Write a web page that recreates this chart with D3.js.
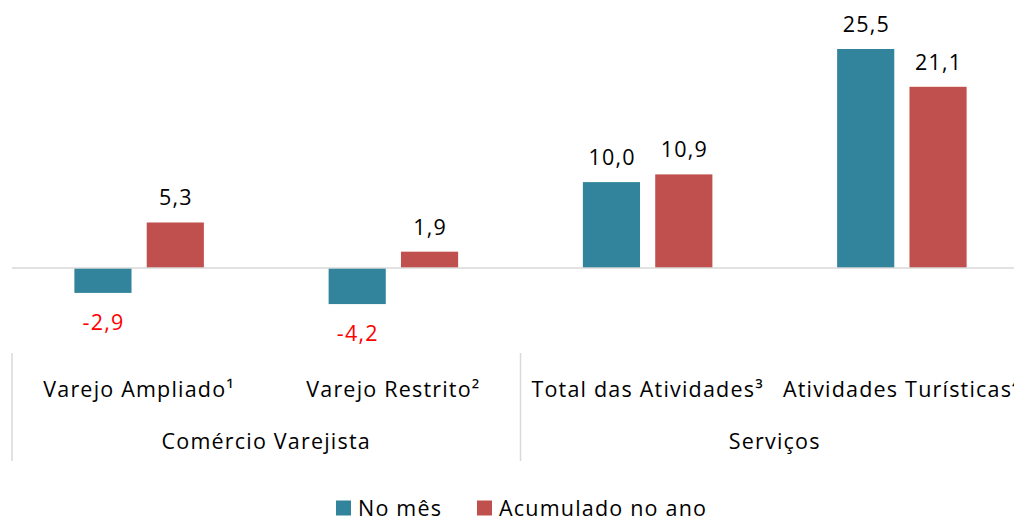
<!DOCTYPE html>
<html lang="pt">
<head>
<meta charset="UTF-8">
<title>Comércio e Serviços</title>
<script src="https://cdn.jsdelivr.net/npm/d3@7"></script>
<style>
    body { margin: 0; background: #fff; }
    svg { display: block; font-family: "Open Sans", sans-serif; letter-spacing: 1.2px; }
</style>
</head>
<body>
<div id="chart"></div>
<script>
    // categorias (nível 1 e nível 2)
    const categorias = ['Varejo Ampliado¹', 'Varejo Restrito²', 'Total das Atividades³', 'Atividades Turísticas⁴']
    const grupos = ['Comércio Varejista', 'Comércio Varejista', 'Serviços', 'Serviços']
    const series = ['No mês', 'Acumulado no ano']
    const noMes = [-2.9, -4.2, 10.0, 25.5]
    const acumulado = [5.3, 1.9, 10.9, 21.1]
    const cores = ['#31849B', '#C0504D']

    const w = 1014
    const h = 521
    const zeroY = 268
    const fs = 21.5

    const svg = d3.select('#chart').append('svg')
        .attr('width', w)
        .attr('height', h)

    // escala de categorias vai um pouco além da largura (o gráfico original está cortado)
    let x0 = d3.scaleBand()
        .domain(categorias)
        .range([12, 1029])

    let x1 = d3.scaleBand()
        .domain(series)
        .range([0, 129.5])
        .paddingInner(0.21)

    let y = d3.scaleLinear()
        .domain([0, 25.5])
        .range([zeroY, 49])

    // formato brasileiro, com hífen no lugar do sinal de menos
    let ptBR = d3.formatLocale({ decimal: ',', thousands: '.', grouping: [3], currency: ['R$', ''], minus: '-' })
    let label = ptBR.format('.1f')

    let dados = categorias.map((c, i) => ({
        cat: c,
        valores: [
            { serie: series[0], v: noMes[i] },
            { serie: series[1], v: acumulado[i] }
        ]
    }))

    let g = svg.selectAll('.grupo')
        .data(dados)
        .enter()
        .append('g')
        .attr('class', 'grupo')
        .attr('transform', d => `translate(${x0(d.cat) + (x0.bandwidth() - 129.5) / 2}, 0)`)

    g.selectAll('rect')
        .data(d => d.valores)
        .enter()
        .append('rect')
        .attr('x', d => x1(d.serie))
        .attr('width', x1.bandwidth())
        .attr('y', d => Math.min(y(d.v), y(0)))
        .attr('height', d => Math.abs(y(d.v) - y(0)))
        .attr('fill', (d, i) => cores[i])

    g.selectAll('text.valor')
        .data(d => d.valores)
        .enter()
        .append('text')
        .attr('class', 'valor')
        .attr('x', d => x1(d.serie) + x1.bandwidth() / 2 + 0.6)
        .attr('y', d => d.v >= 0 ? y(d.v) - 17 : y(d.v) + 37)
        .attr('text-anchor', 'middle')
        .attr('font-size', fs)
        .attr('fill', d => d.v >= 0 ? '#000' : '#FF0000')
        .text(d => label(d.v))

    // linha do zero
    svg.append('line')
        .attr('x1', 12)
        .attr('x2', w)
        .attr('y1', y(0))
        .attr('y2', y(0))
        .attr('stroke', '#d9d9d9')
        .attr('stroke-width', 1.5)

    // eixo de categorias (dois níveis)
    svg.selectAll('text.cat')
        .data(categorias)
        .enter()
        .append('text')
        .attr('class', 'cat')
        .attr('x', d => x0(d) + x0.bandwidth() / 2)
        .attr('y', 397)
        .attr('text-anchor', 'middle')
        .attr('font-size', fs)
        .attr('fill', '#000')
        .text(d => d)

    let nomesGrupo = Array.from(new Set(grupos))
    let limites = nomesGrupo.map(gr => {
        let cats = categorias.filter((c, i) => grupos[i] === gr)
        return { nome: gr, x0: x0(cats[0]), x1: x0(cats[cats.length - 1]) + x0.bandwidth() }
    })

    svg.selectAll('text.grupo-label')
        .data(limites)
        .enter()
        .append('text')
        .attr('class', 'grupo-label')
        .attr('x', d => (d.x0 + d.x1) / 2)
        .attr('y', 449)
        .attr('text-anchor', 'middle')
        .attr('font-size', fs)
        .attr('fill', '#000')
        .text(d => d.nome)

    let divisorias = [limites[0].x0].concat(limites.map(d => d.x1))
    svg.selectAll('line.div')
        .data(divisorias)
        .enter()
        .append('line')
        .attr('class', 'div')
        .attr('x1', d => d)
        .attr('x2', d => d)
        .attr('y1', 353)
        .attr('y2', 461)
        .attr('stroke', '#d9d9d9')
        .attr('stroke-width', 1.5)

    // legenda
    let legend = svg.append('g').attr('id', 'legend')
    let posLeg = [336, 477]
    series.forEach((s, i) => {
        legend.append('rect')
            .attr('x', posLeg[i])
            .attr('y', 500.5)
            .attr('width', 15)
            .attr('height', 15)
            .attr('fill', cores[i])
        legend.append('text')
            .attr('x', posLeg[i] + 22)
            .attr('y', 515.5)
            .attr('font-size', fs)
            .attr('fill', '#000')
            .text(s)
    })
</script>
</body>
</html>
